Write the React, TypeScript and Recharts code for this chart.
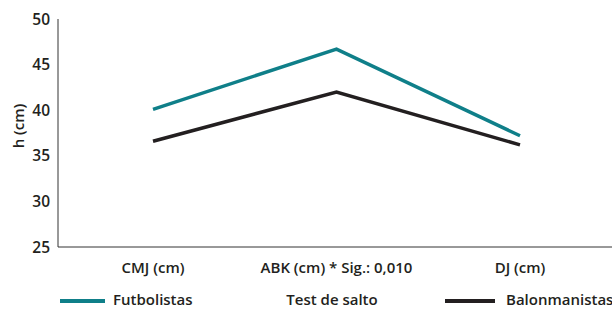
import React from 'react';
import { LineChart, Line, XAxis, YAxis } from 'recharts';

const categories = ['CMJ (cm)', 'ABK (cm) * Sig.: 0,010', 'DJ (cm)'];
const futbolistas = [40.1, 46.7, 37.2];
const balonmanistas = [36.6, 42.0, 36.2];
const yTicks = [25, 30, 35, 40, 45, 50];

const data = categories.map((c, i) => ({ name: c, futbolistas: futbolistas[i], balonmanistas: balonmanistas[i] }));

const TEAL = '#0F7F89';
const DARK = '#231F20';
const FONT = '"Open Sans", sans-serif';

export default function App() {
  return (
    <div style={{ position: 'absolute', left: 0, top: 0, width: 612, height: 309, fontFamily: FONT, overflow: 'hidden' }}>
      <LineChart width={612} height={309} data={data} margin={{ top: 19, right: 0, bottom: 0, left: 0 }}>
        <XAxis
          dataKey="name"
          axisLine={{ stroke: '#333', strokeWidth: 1 }}
          tickLine={false}
          tickSize={0}
          tickMargin={15}
          height={62}
          padding={{ left: 95, right: 92 }}
          tick={{ fill: DARK, fontSize: 15, fontWeight: 600, fontFamily: FONT }}
          interval={0}
        />
        <YAxis
          domain={[25, 50]}
          ticks={yTicks}
          width={58}
          axisLine={{ stroke: '#333', strokeWidth: 1 }}
          tickLine={false}
          tickSize={0}
          tickMargin={8}
          tick={{ fill: DARK, fontSize: 15.5, fontWeight: 600, fontFamily: FONT }}
        />
        <Line type="linear" dataKey="futbolistas" stroke={TEAL} strokeWidth={3.5} dot={false} isAnimationActive={false} />
        <Line type="linear" dataKey="balonmanistas" stroke={DARK} strokeWidth={3.5} dot={false} isAnimationActive={false} />
      </LineChart>
      <div style={{ position: 'absolute', left: 18, top: 126, transform: 'translate(-50%, -50%) rotate(-90deg)', fontSize: 15, fontWeight: 600, color: DARK, whiteSpace: 'nowrap', lineHeight: '20px' }}>h (cm)</div>
      <div style={{ position: 'absolute', left: 60, top: 299, width: 45, height: 4, background: TEAL }} />
      <div style={{ position: 'absolute', left: 113, top: 291, fontSize: 15, fontWeight: 600, color: DARK, lineHeight: '17px' }}>Futbolistas</div>
      <div style={{ position: 'absolute', left: 272, width: 120, top: 291, fontSize: 15, fontWeight: 600, color: DARK, lineHeight: '17px', textAlign: 'center' }}>Test de salto</div>
      <div style={{ position: 'absolute', left: 445, top: 299, width: 50, height: 4, background: DARK }} />
      <div style={{ position: 'absolute', left: 506, top: 291, fontSize: 15, fontWeight: 600, color: DARK, lineHeight: '17px' }}>Balonmanistas</div>
    </div>
  );
}
